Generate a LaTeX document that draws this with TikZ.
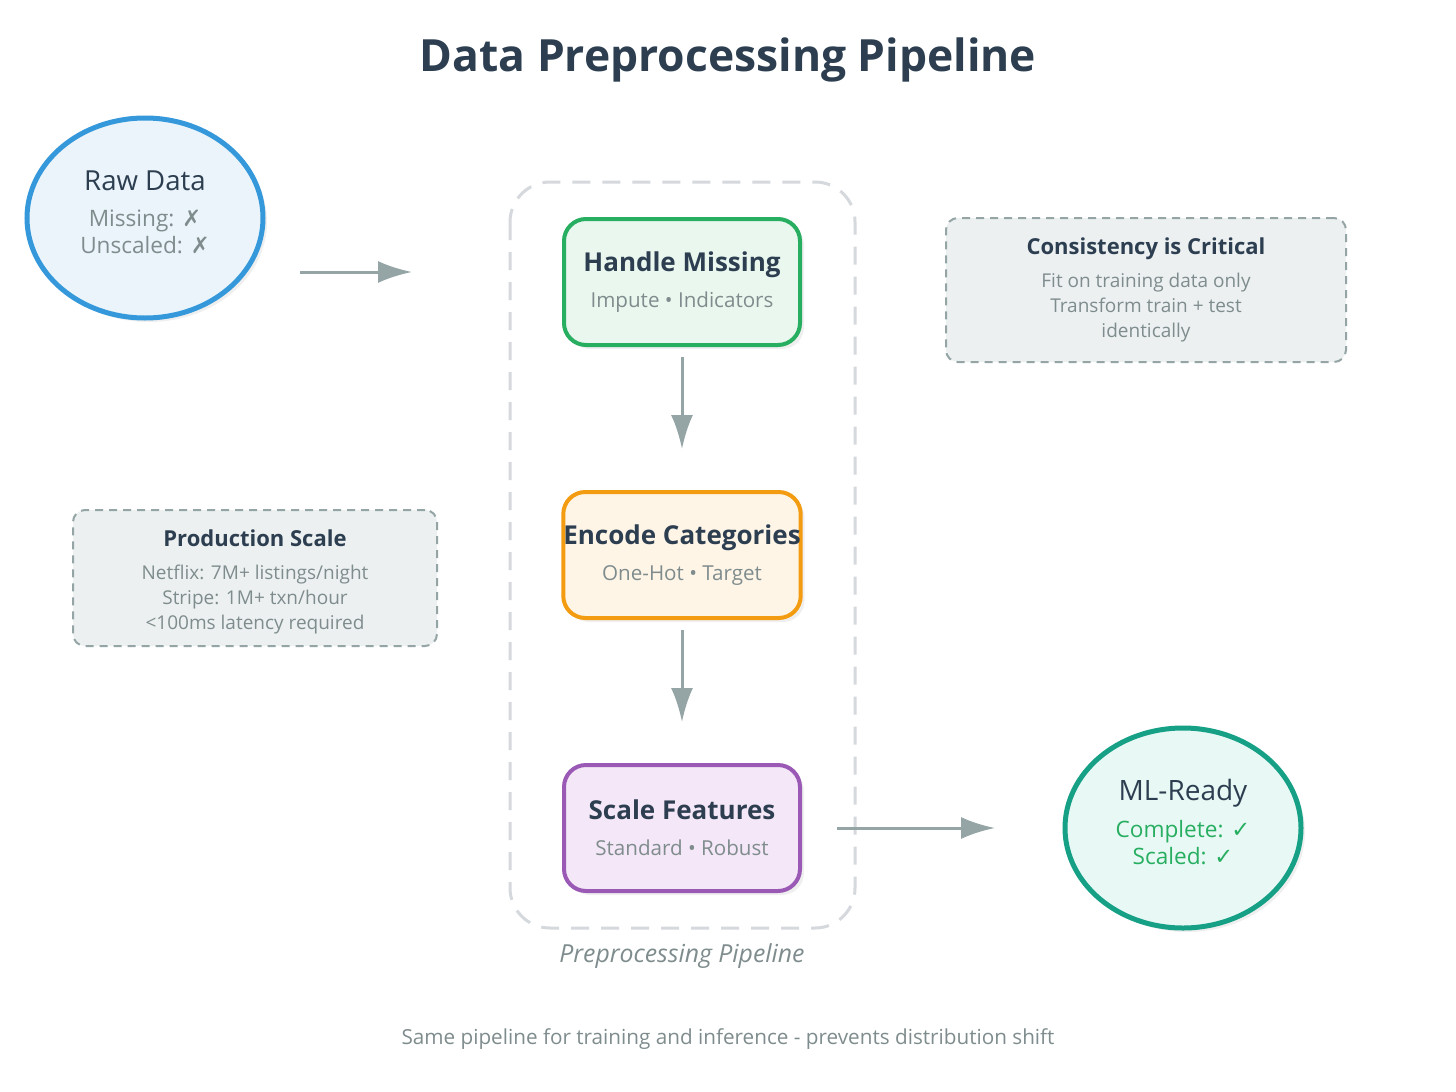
\documentclass[tikz,border=0pt]{standalone}
\usepackage{fontspec}
\setmainfont{Open Sans}
\newfontfamily\glyphfont{DejaVu Sans}
\usetikzlibrary{arrows.meta,shapes.geometric,shadows}

\definecolor{ink}{HTML}{2C3E50}
\definecolor{muted}{HTML}{7F8C8D}
\definecolor{flow}{HTML}{95A5A6}
\definecolor{rawblue}{HTML}{3498DB}
\definecolor{rawfill}{HTML}{EAF4FA}
\definecolor{missgreen}{HTML}{27AE60}
\definecolor{missfill}{HTML}{E9F7EF}
\definecolor{encorange}{HTML}{F39C12}
\definecolor{encfill}{HTML}{FEF5E7}
\definecolor{scalepurple}{HTML}{9B59B6}
\definecolor{scalefill}{HTML}{F4E7F7}
\definecolor{readyteal}{HTML}{16A085}
\definecolor{readyfill}{HTML}{E8F8F5}
\definecolor{notefill}{HTML}{ECF0F1}
\definecolor{frame}{HTML}{D5D8DC}

\newcommand{\lowstrut}{\rule[-6pt]{0pt}{6pt}}
\newcommand{\highstrut}{\rule{0pt}{12.4pt}}

\tikzset{
    blob/.style={ellipse, line width=2.5pt, minimum width=118pt, minimum height=100pt,
        align=center, font=\fontsize{11.3}{13.4}\selectfont,
        drop shadow={shadow xshift=2pt, shadow yshift=-2pt, opacity=0.12}},
    stage/.style={rectangle, rounded corners=11pt, line width=2pt, minimum width=118pt,
        minimum height=63pt, inner xsep=0pt, align=center, text=muted,
        drop shadow={shadow xshift=2pt, shadow yshift=-2pt, opacity=0.12}},
    note/.style={rectangle, rounded corners=6pt, draw=flow, fill=notefill, line width=1pt,
        dash pattern=on 4pt off 3pt, align=center, text=muted, font=\fontsize{9.5}{12.6}\selectfont},
    flowarrow/.style={draw=flow, line width=1.5pt, -{Latex[length=17pt, width=11pt]}},
}

\begin{document}
\begin{tikzpicture}[x=0.5pt, y=-0.5pt]
    \useasboundingbox[fill=white] (0,0) rectangle (1456,1092);

    % title
    \node[text=ink, font=\fontsize{22.2}{26}\selectfont\bfseries] (title) at (728,60) {Data Preprocessing Pipeline};

    % pipeline frame
    \draw[frame, line width=1.5pt, dash pattern=on 9pt off 6pt, rounded corners=20pt] (510,182) rectangle (855,928);
    \node[text=muted, font=\fontsize{12.4}{14}\selectfont\itshape] (framelabel) at (682,956) {Preprocessing Pipeline};

    % nodes (stages)
    \node[blob, draw=rawblue, fill=rawfill, text=muted] (raw) at (145,218)
        {\color{ink}\fontsize{13.8}{15}\selectfont Raw Data\\[5pt]
         Missing: {\glyphfont ✗}\\Unscaled: {\glyphfont ✗}\lowstrut};
    \node[stage, draw=missgreen, fill=missfill] (miss) at (682,282)
        {\color{ink}\fontsize{13}{15}\selectfont\bfseries Handle Missing\\[6pt]
         \fontsize{10.3}{12}\selectfont Impute • Indicators};
    \node[stage, draw=encorange, fill=encfill] (enc) at (682,555)
        {\color{ink}\fontsize{13}{15}\selectfont\bfseries Encode Categories\\[6pt]
         \fontsize{10.3}{12}\selectfont One-Hot • Target};
    \node[stage, draw=scalepurple, fill=scalefill] (scale) at (682,828)
        {\color{ink}\fontsize{13}{15}\selectfont\bfseries Scale Features\\[6pt]
         \fontsize{10.3}{12}\selectfont Standard • Robust};
    \node[blob, draw=readyteal, fill=readyfill, text=missgreen] (ready) at (1183,828)
        {\color{ink}\fontsize{14}{15}\selectfont ML-Ready\\[5pt]
         Complete: {\glyphfont ✓}\\Scaled: {\glyphfont ✓}\lowstrut};

    % notes
    \node[note, minimum width=200pt, minimum height=72pt] (consist) at (1146,290)
        {\color{ink}\fontsize{11}{13}\selectfont\bfseries Consistency is Critical\\[4pt]
         Fit on training data only\\Transform train + test\\identically};
    \node[note, minimum width=182pt, minimum height=68pt] (prod) at (255,578)
        {\color{ink}\fontsize{11}{13}\selectfont\bfseries\highstrut Production Scale\\[4pt]
         Netflix: 7M+ listings/night\\Stripe: 1M+ txn/hour\\<100ms latency required};

    % edges
    \coordinate (rawout) at (300,272);
    \coordinate (framein) at (412,272);
    \coordinate (frameout) at (837,828);
    \coordinate (readyin) at (995,828);
    \draw[flowarrow] (rawout) -- (framein); % raw -> pipeline
    \draw[flowarrow] ([yshift=-5pt]miss.south) -- ([yshift=-51pt]miss.south); % miss -> enc
    \draw[flowarrow] ([yshift=-5pt]enc.south) -- ([yshift=-51pt]enc.south); % enc -> scale
    \draw[flowarrow] (frameout) -- (readyin); % pipeline -> ready

    % footer
    \node[text=muted, font=\fontsize{10.35}{12}\selectfont] (footer) at (728,1039)
        {Same pipeline for training and inference - prevents distribution shift};

\end{tikzpicture}
\end{document}
